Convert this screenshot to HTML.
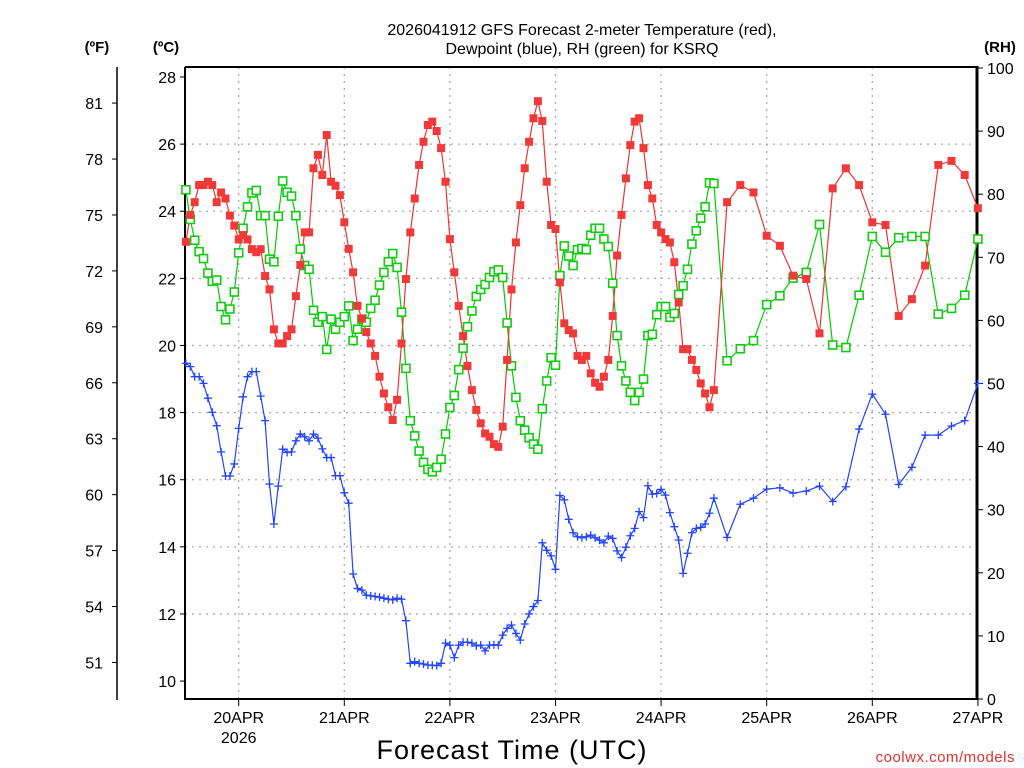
<!DOCTYPE html>
<html><head><meta charset="utf-8"><style>
html,body{margin:0;padding:0;background:#fff;}
svg{display:block;font-family:"Liberation Sans",sans-serif;}
</style></head><body>
<svg id="chart" width="1024" height="768" viewBox="0 0 1024 768" xmlns="http://www.w3.org/2000/svg">
<rect x="0" y="0" width="1024" height="768" fill="#fff"/>
<g id="grid"></g>
<g id="axes"></g>
<g id="series"></g>
<text x="582" y="35" text-anchor="middle" font-size="16">2026041912 GFS Forecast 2-meter Temperature (red),</text>
<text x="582" y="54" text-anchor="middle" font-size="16">Dewpoint (blue), RH (green) for KSRQ</text>
<text x="97" y="52" text-anchor="middle" font-size="15" font-weight="bold">(ºF)</text>
<text x="166" y="52" text-anchor="middle" font-size="15" font-weight="bold">(ºC)</text>
<text x="1000" y="52" text-anchor="middle" font-size="15" font-weight="bold">(RH)</text>
<text x="512" y="759" text-anchor="middle" font-size="27" letter-spacing="1">Forecast Time (UTC)</text>
<text x="1015" y="762" text-anchor="end" font-size="15" fill="#e03030" letter-spacing="0.5">coolwx.com/models</text>
</svg>
<script>
const hours = [0,1,2,3,4,5,6,7,8,9,10,11,12,13,14,15,16,17,18,19,20,21,22,23,24,25,26,27,28,29,30,31,32,33,34,35,36,37,38,39,40,41,42,43,44,45,46,47,48,49,50,51,52,53,54,55,56,57,58,59,60,61,62,63,64,65,66,67,68,69,70,71,72,73,74,75,76,77,78,79,80,81,82,83,84,85,86,87,88,89,90,91,92,93,94,95,96,97,98,99,100,101,102,103,104,105,106,107,108,109,110,111,112,113,114,115,116,117,118,119,120,123,126,129,132,135,138,141,144,147,150,153,156,159,162,165,168,171,174,177,180];
const tempC = [23.09,23.89,24.27,24.78,24.78,24.88,24.78,24.27,24.56,24.38,23.87,23.57,23.16,23.29,23.16,22.87,22.78,22.87,22.07,21.67,20.48,20.06,20.06,20.28,20.48,21.47,22.4,23.37,23.37,25.28,25.68,25.08,26.27,24.88,24.76,24.48,23.67,22.88,22.18,21.18,20.8,20.4,20.06,19.69,19.07,18.57,18.16,17.78,18.38,20.06,21.98,23.37,24.38,25.38,26.07,26.57,26.67,26.39,25.88,24.88,23.17,22.18,21.18,20.28,19.39,18.67,18.08,17.68,17.38,17.28,17.06,16.98,17.58,19.57,21.67,23.07,24.18,25.28,26.07,26.77,27.28,26.69,24.88,23.59,23.47,21.88,20.66,20.46,20.36,19.69,19.57,19.69,19.17,18.89,18.77,19.07,19.57,20.88,22.68,23.89,24.98,25.97,26.67,26.77,25.88,24.78,24.38,23.59,23.37,23.17,23.07,22.48,21.28,19.89,19.89,19.57,19.27,18.87,18.57,18.16,18.67,24.27,24.78,24.56,23.27,22.97,22.08,21.98,20.36,24.68,25.28,24.78,23.67,23.59,20.88,21.38,22.38,25.38,25.50,25.08,24.09];
const dewC = [19.47,19.37,19.07,19.07,18.87,18.43,18.01,17.61,16.83,16.11,16.11,16.47,17.53,18.47,19.07,19.22,19.22,18.49,17.76,15.87,14.68,15.81,16.91,16.81,16.83,17.16,17.36,17.28,17.16,17.36,17.24,16.92,16.66,16.66,16.12,16.12,15.61,15.30,13.19,12.76,12.71,12.56,12.54,12.52,12.50,12.47,12.44,12.42,12.47,12.44,11.80,10.53,10.58,10.53,10.51,10.48,10.47,10.46,10.53,11.13,11.07,10.70,11.07,11.16,11.16,11.13,11.05,11.07,10.90,11.07,11.08,11.07,11.37,11.57,11.67,11.42,11.22,11.70,12.0,12.22,12.40,14.12,13.90,13.73,13.33,15.53,15.40,14.82,14.42,14.30,14.27,14.30,14.35,14.27,14.20,14.12,14.32,14.25,13.88,13.68,13.99,14.33,14.55,15.05,14.87,15.82,15.57,15.59,15.71,15.54,15.02,14.60,14.20,13.21,13.81,14.42,14.55,14.58,14.68,15.00,15.45,14.28,15.27,15.45,15.72,15.76,15.60,15.66,15.81,15.35,15.79,17.51,18.55,17.95,15.86,16.37,17.33,17.33,17.60,17.76,18.87];
const rhPct = [80.7,76.0,72.7,70.9,69.8,67.5,66.2,66.4,62.2,60.1,61.8,64.5,70.7,74.6,78.0,80.2,80.6,76.6,76.6,69.7,69.3,76.5,82.1,80.3,79.7,76.6,71.3,68.7,68.1,61.6,59.7,60.6,55.4,60.2,58.6,59.7,60.6,62.3,56.8,58.6,60.2,59.7,61.9,63.2,65.6,67.6,69.3,70.6,68.4,61.3,52.4,44.1,41.7,39.3,37.5,36.4,36.0,36.7,38.0,42.0,46.2,48.1,52.2,55.6,59.0,61.5,63.8,64.9,65.7,66.8,67.7,68.0,66.8,59.6,52.8,47.8,44.1,42.6,41.4,40.4,39.6,46.0,50.4,54.1,52.9,67.1,71.8,70.2,68.7,71.2,71.4,71.2,73.5,74.6,74.6,72.9,71.7,65.9,57.6,52.8,50.4,48.6,47.3,48.6,50.7,57.6,57.8,60.9,62.2,62.2,60.5,61.1,64.1,65.5,68.1,72.1,74.2,76.2,78.0,81.8,81.7,53.6,55.5,56.8,62.5,63.9,66.7,67.6,75.2,56.1,55.7,64.0,73.3,70.8,73.1,73.3,73.3,61.0,61.9,64.0,72.9];
const dayLabels = ["20APR","21APR","22APR","23APR","24APR","25APR","26APR","27APR"];
const dayHours = [12,36,60,84,108,132,156,180];
const cTicks = [10,12,14,16,18,20,22,24,26,28];
const fTicks = [51,54,57,60,63,66,69,72,75,78,81];
const rhTicks = [0,10,20,30,40,50,60,70,80,90,100];

const NS="http://www.w3.org/2000/svg";
const X0=185.9, PX_H=4.4, L=185, R=977, T=67, B=699;
function xs(h){return X0+h*PX_H;}
function yc(c){return 77+(28-c)*33.56;}
function yrh(r){return 699-r*6.31;}
function mk(tag,attrs,parent){const e=document.createElementNS(NS,tag);for(const k in attrs)e.setAttribute(k,attrs[k]);parent.appendChild(e);return e;}
const grid=document.getElementById('grid'),axes=document.getElementById('axes'),ser=document.getElementById('series');

cTicks.forEach(c=>{
  if(c>10&&c<28){const g=mk('line',{x1:L,x2:R,y1:yc(c),y2:yc(c),stroke:'#aaa','stroke-width':1.3,'stroke-dasharray':'2,5'},grid);
  
  }
  const tk=mk('line',{x1:L-5,x2:L,y1:yc(c),y2:yc(c),stroke:'#000','stroke-width':1},axes);
  
  
  const t=mk('text',{x:L-9,y:yc(c)+6,'text-anchor':'end','font-size':16},axes);t.textContent=c;
  
  
});
dayHours.forEach((h,i)=>{
  if(i<dayHours.length-1){const g=mk('line',{x1:xs(h),x2:xs(h),y1:T,y2:B,stroke:'#aaa','stroke-width':1.3,'stroke-dasharray':'2,5'},grid);
  
  }
  const tk=mk('line',{x1:xs(h),x2:xs(h),y1:B,y2:B+7,stroke:'#000','stroke-width':1},axes);
  
  
  const t=mk('text',{x:xs(h),y:723,'text-anchor':'middle','font-size':16},axes);t.textContent=dayLabels[i];
  
  
});
const yr=mk('text',{x:xs(12),y:743,'text-anchor':'middle','font-size':16},axes);yr.textContent='2026';



fTicks.forEach(f=>{
  const y=yc((f-32)/1.8);
  const tk=mk('line',{x1:112,x2:117,y1:y,y2:y,stroke:'#000','stroke-width':1},axes);
  
  
  const t=mk('text',{x:103,y:y+6,'text-anchor':'end','font-size':16},axes);t.textContent=f;
  
  
});
const fa=mk('line',{x1:117,x2:117,y1:67,y2:700,stroke:'#000','stroke-width':1.5},axes);


rhTicks.forEach(r=>{
  const tk=mk('line',{x1:R,x2:R+6,y1:yrh(r),y2:yrh(r),stroke:'#000','stroke-width':1},axes);
  
  
  const t=mk('text',{x:987,y:yrh(r)+6,'text-anchor':'start','font-size':16},axes);t.textContent=r;
  
  
});
const fr=mk('path',{d:`M${L},${T} L${R},${T} M${L},${T} L${L},${B} L${R},${B}`,fill:'none',stroke:'#000','stroke-width':2},axes);


const ra=mk('line',{x1:R,x2:R,y1:T-1,y2:B+1,stroke:'#000','stroke-width':3},axes);



function line(vals,yf,color,name){
  const d=vals.map((v,i)=>(i?'L':'M')+xs(hours[i]).toFixed(1)+','+yf(v).toFixed(1)).join(' ');
  const p=mk('path',{d:d,fill:'none',stroke:color,'stroke-width':1.2},ser);
  
  
}
line(rhPct,yrh,'#00cc00','rh-line');
line(tempC,yc,'#ee3333','temperature-line');
line(dewC,yc,'#2244ff','dewpoint-line');
rhPct.forEach((v,i)=>{
  const m=mk('rect',{x:xs(hours[i])-4,y:yrh(v)-4,width:8,height:8,fill:'#fff',stroke:'#11cc11','stroke-width':1.6},ser);
  
  
});
tempC.forEach((v,i)=>{
  const m=mk('rect',{x:xs(hours[i])-4,y:yc(v)-4,width:8,height:8,fill:'#f03a3a'},ser);
  
  
});
dewC.forEach((v,i)=>{
  const x=xs(hours[i]),y=yc(v);
  const m=mk('path',{d:`M${x-4},${y} L${x+4},${y} M${x},${y-4} L${x},${y+4}`,stroke:'#2244ff','stroke-width':1.3},ser);
  
  
});
</script>
</body></html>
